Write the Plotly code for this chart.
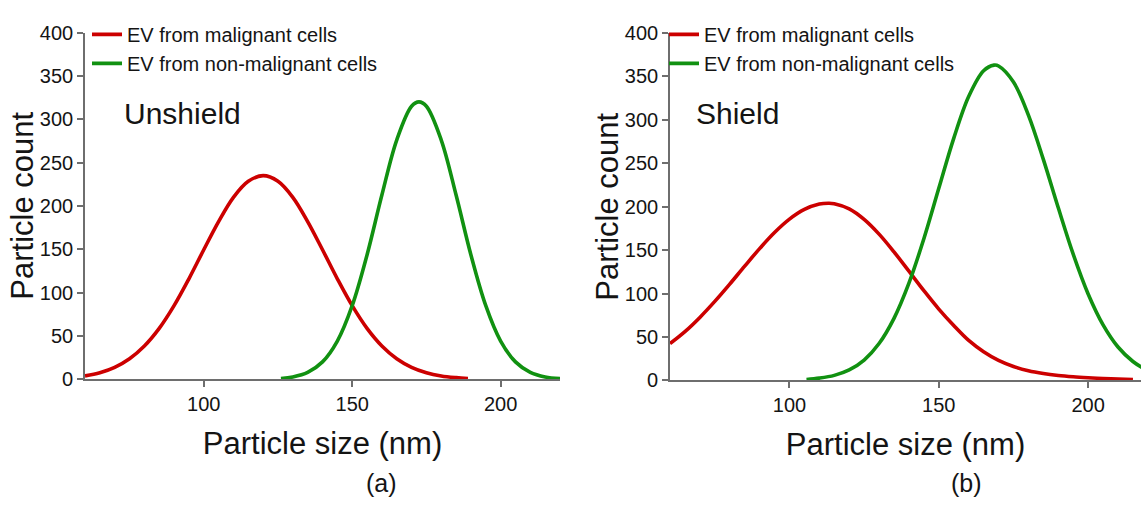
import plotly.graph_objects as go

# ---------------- data ----------------
# Panel (a) Unshield
size_a_malig = [60, 65, 70, 75, 80, 85, 90, 95, 100, 105, 110, 115, 120, 125, 130,
                135, 140, 145, 150, 155, 160, 165, 170, 175, 180, 185, 189]
count_a_malig = [4, 7.7, 13.9, 23.8, 38.5, 58.8, 85, 116, 149.5, 182, 210, 228.5, 235,
                 228.5, 210, 182, 149.5, 116, 85, 58.8, 38.5, 23.8, 13.9, 7.7, 4, 2, 1]

size_a_nonmalig = [126, 130, 135, 140, 145, 150, 155, 160, 165, 170, 172.5, 175, 180,
                   185, 190, 195, 200, 205, 210, 215, 220]
count_a_nonmalig = [1, 2.8, 8.1, 20.2, 44.2, 85, 143.5, 212.6, 276, 315, 320, 315, 276,
                    212.6, 143.5, 85, 44.2, 20.2, 8.1, 2.8, 0.9]

# Panel (b) Shield
size_b_malig = [60, 65, 70, 75, 80, 85, 90, 95, 100, 105, 110, 113, 115, 120, 125, 130,
                135, 140, 145, 150, 155, 160, 165, 170, 175, 180, 185, 190, 195, 200,
                205, 210, 215]
count_b_malig = [42.3, 56.1, 72.5, 90.9, 110.8, 131.5, 151.7, 170.2, 185.6, 196.8, 203,
                 204, 203.5, 197.5, 185.4, 168.4, 147.9, 125.7, 103.3, 82.1, 63.2, 46,
                 33, 23, 16, 11, 7.8, 5.6, 4.1, 3.0, 2.1, 1.5, 1.0]

size_b_nonmalig = [105.7, 110, 115, 120, 125, 130, 135, 140, 145, 150, 155, 160, 165,
                   168.5, 170, 175, 180, 185, 190, 195, 200, 205, 210, 215, 218]
count_b_nonmalig = [1, 2.55, 5.73, 12, 23.4, 42.4, 71.4, 111.9, 163.1, 221.1, 278.7,
                    326.9, 356.6, 363, 362, 343.5, 305.5, 254.5, 198.7, 145.3, 99.5,
                    63.9, 38.4, 21.7, 14.9]

series_names = ["EV from malignant cells", "EV from non-malignant cells"]
panel_labels = ["Unshield", "Shield"]
panel_tags = ["(a)", "(b)"]
x_title = "Particle size (nm)"
y_title = "Particle count"

# ---------------- styling ----------------
RED = "#cc0000"
GREEN = "#119111"
AXIS = "#6e6e6e"
TXT = "#141414"
FONT = "Arial, Liberation Sans, sans-serif"
W, H = 1141, 510

fig = go.Figure()

def add(x, y, color, name, xa, ya, legend):
    fig.add_trace(go.Scatter(
        x=x, y=y, mode="lines", name=name,
        line=dict(color=color, width=3.6, shape="spline", smoothing=1.0),
        xaxis=xa, yaxis=ya, legend=legend, cliponaxis=False,
        hoverinfo="x+y"))

add(size_a_malig, count_a_malig, RED, series_names[0], "x", "y", "legend")
add(size_a_nonmalig, count_a_nonmalig, GREEN, series_names[1], "x", "y", "legend")
add(size_b_malig, count_b_malig, RED, series_names[0], "x2", "y2", "legend2")
add(size_b_nonmalig, count_b_nonmalig, GREEN, series_names[1], "x2", "y2", "legend2")

def xax(domain, rng, anchor):
    return dict(domain=domain, range=rng, anchor=anchor, showgrid=False, zeroline=False,
                showline=True, linecolor=AXIS, linewidth=1.6, ticks="outside",
                ticklen=6, tickwidth=1.5, tickcolor=AXIS, dtick=50, tick0=0,
                tickfont=dict(size=20, color=TXT, family=FONT),
                title=dict(text=x_title, font=dict(size=31, color=TXT, family=FONT),
                           standoff=18))

def yax(domain, anchor):
    return dict(domain=domain, range=[0, 400], anchor=anchor, showgrid=False,
                zeroline=False, showline=True, linecolor=AXIS, linewidth=1.6,
                ticks="outside", ticklen=6, tickwidth=1.5, tickcolor=AXIS, dtick=50,
                tickfont=dict(size=20, color=TXT, family=FONT))

ya_dom = [1 - 385 / H, 1 - 22.5 / H]
yb_dom = [1 - 386 / H, 1 - 23 / H]

legend_common = dict(xanchor="left", yanchor="top", bgcolor="rgba(0,0,0,0)",
                     font=dict(size=20, color=TXT, family=FONT), tracegroupgap=0,
                     itemwidth=30)

fig.update_layout(
    width=W, height=H,
    margin=dict(l=0, r=0, t=0, b=0),
    paper_bgcolor="white", plot_bgcolor="white",
    font=dict(family=FONT, color=TXT),
    xaxis=xax([85 / W, 560 / W], [60, 220], "y"),
    yaxis=yax(ya_dom, "x"),
    xaxis2=xax([670 / W, 1.0], [60, 217.7], "y2"),
    yaxis2=yax(yb_dom, "x2"),
    legend=dict(x=87 / W, y=1 - 4 / H, **legend_common),
    legend2=dict(x=664 / W, y=1 - 4 / H, **legend_common),
    showlegend=True,
)

annotations = [
    dict(text=panel_labels[0], x=122 / W, y=1 - 107 / H, xanchor="left", yanchor="middle"),
    dict(text=panel_labels[1], x=694 / W, y=1 - 107 / H, xanchor="left", yanchor="middle"),
]
for a in annotations:
    a.update(xref="paper", yref="paper", showarrow=False,
             font=dict(size=30, color=TXT, family=FONT))
ytitles = [
    dict(text=y_title, x=22.5 / W, y=1 - 204 / H),
    dict(text=y_title, x=607.5 / W, y=1 - 205 / H),
]
for a in ytitles:
    a.update(xref="paper", yref="paper", showarrow=False, textangle=-90,
             xanchor="center", yanchor="middle",
             font=dict(size=31, color=TXT, family=FONT))
tags = [
    dict(text=panel_tags[0], x=381 / W, y=1 - 493 / H),
    dict(text=panel_tags[1], x=966 / W, y=1 - 493 / H),
]
for a in tags:
    a.update(xref="paper", yref="paper", showarrow=False, xanchor="center",
             yanchor="middle", font=dict(size=25, color=TXT, family=FONT))
fig.update_layout(annotations=annotations + ytitles + tags)

fig.write_html("out.html")
